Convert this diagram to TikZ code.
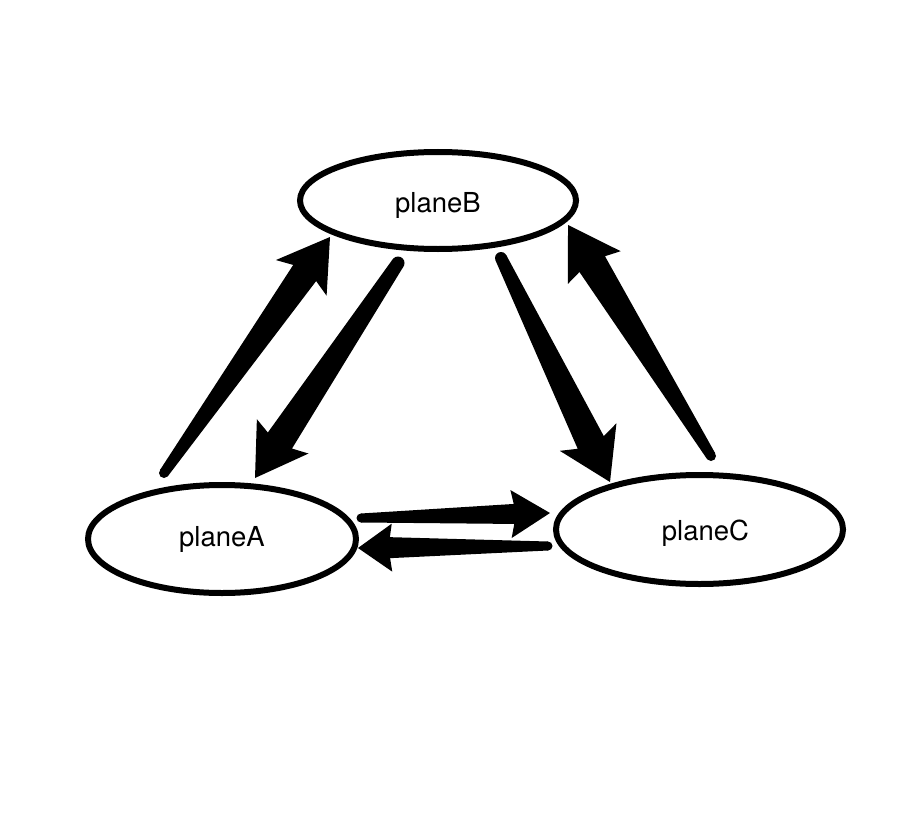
\documentclass[tikz,border=0pt]{standalone}
\usepackage{fontspec}
\setmainfont{TeX Gyre Heros}
\usetikzlibrary{shapes.geometric,calc}
\tikzset{
  plane/.style={ellipse,draw,line width=6pt,inner sep=0pt,fill=white,
    font=\fontsize{27.5}{32}\selectfont},
}
% #1 start, #2 tip, #3 start width, #4 shaft width at head, #5 head width,
% #6 barb distance from tip, #7 join distance from tip
\newcommand\taperarrow[7]{%
  \pgfmathsetmacro\tza{#3/2}\pgfmathsetmacro\tzb{#4/2}\pgfmathsetmacro\tzc{#5/2}%
  \coordinate (tJ) at ($(#2)!#7pt!(#1)$);
  \coordinate (tH) at ($(#2)!#6pt!(#1)$);
  \fill (#1) circle[radius=\tza pt];
  \fill ($(#1)!\tza pt!90:(#2)$) -- ($(tJ)!\tzb pt!-90:(#1)$) -- ($(tH)!\tzc pt!-90:(#1)$)
    -- (#2) -- ($(tH)!\tzc pt!90:(#1)$) -- ($(tJ)!\tzb pt!90:(#1)$)
    -- ($(#1)!\tza pt!-90:(#2)$) -- cycle;
}
\begin{document}
\begin{tikzpicture}[x=1pt,y=-1pt]
\useasboundingbox (0,0) rectangle (910,832);
\node[plane,minimum width=276pt,minimum height=97pt,text height=30pt,text depth=6pt] (B) at (438,200.5) {planeB};
\node[plane,minimum width=268pt,minimum height=108pt] (A) at (222,539) {planeA};
\node[plane,minimum width=287pt,minimum height=109pt,text height=27pt,text depth=6pt] (C) at (699.5,529.5) {\hspace*{12pt}planeC};
% arrow end points
\coordinate (ABs) at (164,473); \coordinate (ABt) at (330,237);
\coordinate (BAs) at (398,263); \coordinate (BAt) at (255,478);
\coordinate (BCs) at (501,258); \coordinate (BCt) at (610,482);
\coordinate (CBs) at (711,456); \coordinate (CBt) at (568,225);
\coordinate (ACs) at (361,518); \coordinate (ACt) at (550,513);
\coordinate (CAs) at (548,546); \coordinate (CAt) at (358,548);
\taperarrow{ABs}{ABt}{10}{28}{62}{50}{44}
\taperarrow{BAs}{BAt}{13}{29}{62}{50}{45}
\taperarrow{BCs}{BCt}{12}{29}{63}{50}{44}
\taperarrow{CBs}{CBt}{10}{30}{62}{50}{46}
\taperarrow{ACs}{ACt}{9}{20}{48}{39}{36}
\taperarrow{CAs}{CAt}{9}{21}{48}{34}{32}
\end{tikzpicture}
\end{document}
